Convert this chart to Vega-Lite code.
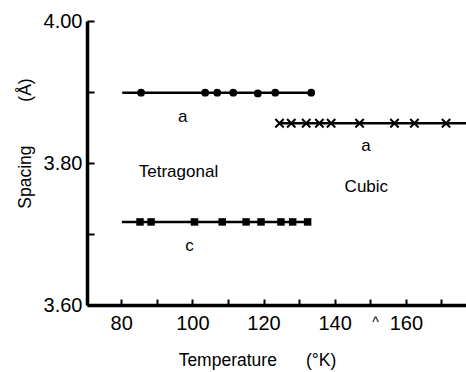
{
  "$schema": "https://vega.github.io/schema/vega-lite/v6.json",
  "width": 379,
  "height": 284,
  "autosize": {"type": "none"},
  "padding": {"left": 87, "top": 21, "right": 0, "bottom": 67},
  "background": "white",
  "config": {
    "font": "Liberation Sans",
    "view": {"stroke": null},
    "axis": {"grid": false, "domainColor": "black", "tickColor": "black", "labelColor": "black", "titleColor": "black", "titleFontWeight": "normal"}
  },
  "datasets": {
    "lines": [
      {"series": "tet_a", "T": 80.3, "S": 3.899},
      {"series": "tet_a", "T": 133.4, "S": 3.899},
      {"series": "tet_c", "T": 80.2, "S": 3.717},
      {"series": "tet_c", "T": 132.4, "S": 3.717},
      {"series": "cubic", "T": 124.5, "S": 3.856},
      {"series": "cubic", "T": 176.9, "S": 3.856}
    ],
    "tet_a": [
      {"T": 85.6, "S": 3.899}, {"T": 103.6, "S": 3.899}, {"T": 107.0, "S": 3.899},
      {"T": 111.5, "S": 3.899}, {"T": 118.4, "S": 3.898}, {"T": 123.3, "S": 3.899},
      {"T": 133.4, "S": 3.899}
    ],
    "tet_c": [
      {"T": 85.3, "S": 3.717}, {"T": 88.4, "S": 3.717}, {"T": 100.6, "S": 3.717},
      {"T": 108.4, "S": 3.717}, {"T": 115.1, "S": 3.717}, {"T": 119.3, "S": 3.717},
      {"T": 124.9, "S": 3.717}, {"T": 128.2, "S": 3.717}, {"T": 132.4, "S": 3.717}
    ],
    "cubic": [
      {"T": 124.5, "S": 3.856}, {"T": 127.8, "S": 3.856}, {"T": 132.0, "S": 3.856},
      {"T": 135.7, "S": 3.856}, {"T": 139.0, "S": 3.856}, {"T": 147.0, "S": 3.856},
      {"T": 156.8, "S": 3.856}, {"T": 162.4, "S": 3.856}, {"T": 171.3, "S": 3.856}
    ],
    "labels": [
      {"label": "a", "T": 97.3, "S": 3.865},
      {"label": "Tetragonal", "T": 96.1, "S": 3.788},
      {"label": "c", "T": 99.2, "S": 3.683},
      {"label": "a", "T": 148.8, "S": 3.824},
      {"label": "Cubic", "T": 148.9, "S": 3.766}
    ],
    "caret": [
      {"label": "^", "T": 151.5, "S": 3.574}
    ]
  },
  "encoding": {
    "x": {
      "field": "T", "type": "quantitative",
      "scale": {"domain": [70.4, 176.9], "nice": false, "zero": false},
      "axis": {
        "values": [80, 90, 100, 110, 120, 130, 140, 150, 160, 170],
        "labelExpr": "datum.value % 20 == 0 && datum.value <= 160 ? datum.label : ''",
        "labelFontSize": 20, "labelPadding": 14, "tickSize": -6, "tickWidth": 2,
        "domainWidth": 3.5,
        "title": "Temperature\u00a0\u00a0\u00a0\u00a0\u00a0\u00a0(°K)",
        "titleFontSize": 17.5, "titleX": 170, "titleY": 55, "titleBaseline": "middle", "titleAlign": "center"
      }
    },
    "y": {
      "field": "S", "type": "quantitative",
      "scale": {"domain": [3.6, 4.0], "nice": false, "zero": false},
      "axis": {
        "values": [3.6, 3.7, 3.8, 3.9, 4.0],
        "format": ".2f",
        "labelExpr": "round(datum.value * 10) % 2 == 0 ? datum.label : ''",
        "labelFontSize": 20, "labelPadding": 12, "tickSize": -7, "tickWidth": 2,
        "domainWidth": 3.5,
        "title": "Spacing\u00a0\u00a0\u00a0\u00a0\u00a0\u00a0\u00a0\u00a0\u00a0(Å)",
        "titleFontSize": 17.5, "titleX": -62, "titleY": 122, "titleBaseline": "middle", "titleAlign": "center"
      }
    }
  },
  "layer": [
    {
      "data": {"name": "lines"},
      "mark": {"type": "line", "color": "black", "strokeWidth": 2.5},
      "encoding": {"detail": {"field": "series"}}
    },
    {
      "data": {"name": "tet_a"},
      "mark": {"type": "point", "shape": "circle", "filled": true, "color": "black", "size": 60, "opacity": 1}
    },
    {
      "data": {"name": "tet_c"},
      "mark": {"type": "point", "shape": "square", "filled": true, "color": "black", "size": 56, "opacity": 1}
    },
    {
      "data": {"name": "cubic"},
      "mark": {"type": "point", "shape": "M-1,-1L1,1M-1,1L1,-1", "filled": false, "color": "black", "strokeWidth": 2, "size": 70, "opacity": 1}
    },
    {
      "data": {"name": "labels"},
      "mark": {"type": "text", "fontSize": 17, "color": "black", "align": "center", "baseline": "middle"},
      "encoding": {"text": {"field": "label"}}
    },
    {
      "data": {"name": "caret"},
      "mark": {"type": "text", "fontSize": 14, "color": "black", "align": "center", "baseline": "middle"},
      "encoding": {"text": {"field": "label"}}
    }
  ]
}
